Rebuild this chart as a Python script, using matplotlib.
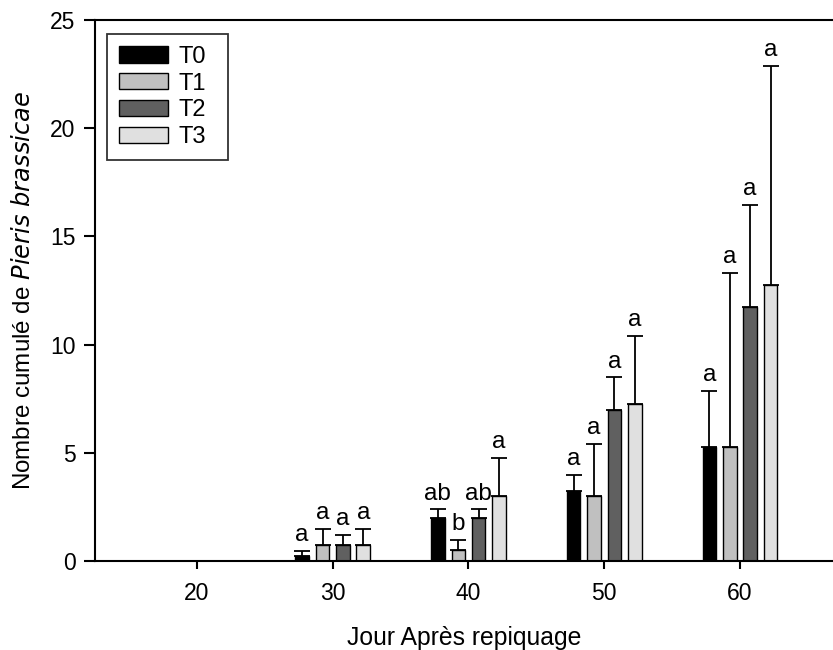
import matplotlib.pyplot as plt
import numpy as np

plt.rcParams['font.family'] = ['Liberation Sans', 'DejaVu Sans']

jours = [20, 30, 40, 50, 60]
traitements = ['T0', 'T1', 'T2', 'T3']
couleurs = ['#000000', '#c0c0c0', '#606060', '#e0e0e0']

moyennes = {
    'T0': [0, 0.25, 2.0, 3.25, 5.25],
    'T1': [0, 0.75, 0.5, 3.0, 5.25],
    'T2': [0, 0.75, 2.0, 7.0, 11.75],
    'T3': [0, 0.75, 3.0, 7.25, 12.75],
}
erreurs = {
    'T0': [0, 0.22, 0.38, 0.72, 2.6],
    'T1': [0, 0.72, 0.48, 2.4, 8.05],
    'T2': [0, 0.45, 0.38, 1.48, 4.7],
    'T3': [0, 0.72, 1.75, 3.17, 10.12],
}
lettres = {
    'T0': ['', 'a', 'ab', 'a', 'a'],
    'T1': ['', 'a', 'b', 'a', 'a'],
    'T2': ['', 'a', 'ab', 'a', 'a'],
    'T3': ['', 'a', 'a', 'a', 'a'],
}

fig = plt.figure(figsize=(8.33, 6.5), dpi=100)
ax = fig.add_axes([95/833, 89/650, 738/833, 541/650])

decalage = [-2.25, -0.75, 0.75, 2.25]
x = np.array(jours, dtype=float)
for i, t in enumerate(traitements):
    pos = x + decalage[i]
    ax.bar(pos, moyennes[t], width=1.0, color=couleurs[i], edgecolor='black',
           linewidth=1, label=t, zorder=2)
    m = np.array(moyennes[t])
    e = np.array(erreurs[t])
    sel = m > 0
    ax.errorbar(pos[sel], m[sel], yerr=[np.zeros(sel.sum()), e[sel]], fmt='none',
                ecolor='black', elinewidth=1.3, capsize=6, capthick=1.3, zorder=3)
    for p, v, er, lt in zip(pos, m, e, lettres[t]):
        if lt:
            ax.text(p, v + er + 0.22, lt, ha='center', va='bottom', fontsize=17.5)

ax.set_xlim(12.49, 66.85)
ax.set_ylim(0, 25)
ax.set_xticks(jours)
ax.set_yticks([0, 5, 10, 15, 20, 25])
ax.tick_params(axis='both', labelsize=16.5, direction='out', width=1.5)
ax.tick_params(axis='x', length=6, pad=9)
ax.tick_params(axis='y', length=8, pad=6)
ax.spines['right'].set_visible(False)
for s in ['left', 'bottom', 'top']:
    ax.spines[s].set_linewidth(1.5)

ax.set_xlabel('Jour Après repiquage', fontsize=17.8, labelpad=15)
ax.set_ylabel('Nombre cumulé de $\\it{Pieris\\ brassicae}$', fontsize=17.4, labelpad=11)

# legende : cadre fixe en largeur
leg = ax.legend(loc='upper left', bbox_to_anchor=(12/738, 1 - 15/541, 121/738, 1/541),
                mode='expand', fontsize=17, frameon=True, fancybox=False, borderaxespad=0,
                handlelength=2.07, handleheight=0.68, labelspacing=0.2, borderpad=0.5,
                handletextpad=0.47)
leg.get_frame().set_edgecolor('black')
leg.get_frame().set_linewidth(1.3)

plt.savefig('out.png', dpi=100)
